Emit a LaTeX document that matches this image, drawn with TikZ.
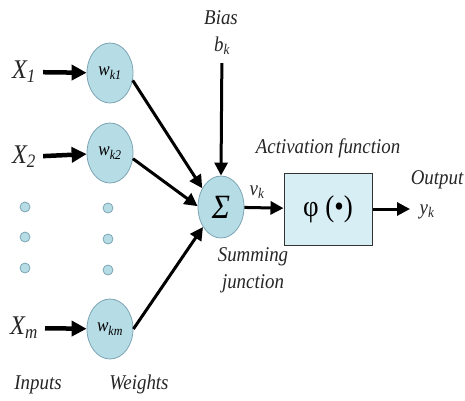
\documentclass[tikz,border=0pt]{standalone}
\usepackage{fontspec}
\setmainfont{Liberation Serif}[FakeStretch=0.9]
\usetikzlibrary{arrows.meta,shapes.geometric}
\definecolor{cellfill}{RGB}{182,220,230}
\definecolor{cellline}{RGB}{125,165,180}
\definecolor{boxfill}{RGB}{216,238,245}
\begin{document}
\begin{tikzpicture}[
  x=1pt, y=-1pt,
  >={Triangle[length=13pt,width=13pt]},
  lbl/.style={font=\fontsize{21}{27}\selectfont\itshape, text=black!85, inner sep=0pt},
  inp/.style={font=\fontsize{27}{30}\selectfont\itshape, text=black!85, inner sep=1pt},
  wgt/.style={ellipse, draw=cellline, fill=cellfill, line width=0.8pt,
              minimum width=46pt, minimum height=60pt, inner sep=0pt,
              font=\fontsize{19}{20}\selectfont\itshape},
  dot/.style={circle, draw=cellline, fill=cellfill, line width=0.8pt,
              minimum size=10pt, inner sep=0pt},
  arr/.style={->, line width=3pt},
  big/.style={->, line width=4.5pt, >={Triangle[length=15pt,width=15pt]}}
]
\useasboundingbox (0,0) rectangle (465,400);

%% Inputs and weights
\node[inp] (x1) at (24,72) {X\textsubscript{1}};
\node[inp] (x2) at (24,157) {X\textsubscript{2}};
\node[inp] (xm) at (24,328) {X\textsubscript{m}};
\node[wgt] (w1) at (110,73) {w\textsubscript{k1}};
\node[wgt] (w2) at (110,153) {w\textsubscript{k2}};
\node[wgt] (wm) at (110,329) {w\textsubscript{km}};
\draw[big, shorten <=6pt] (x1) -- (w1);
\draw[big, shorten <=6pt] (x2) -- (w2);
\draw[big, shorten <=6pt] (xm) -- (wm);

%% Dots
\foreach \y [count=\i] in {207,237,268}{
  \node[dot] (ld\i) at (25,\y) {};
}
\foreach \y [count=\i] in {208,239,270}{
  \node[dot] (rd\i) at (108,\y) {};
}
\node[lbl] (inputs) at (38,385) {Inputs};
\node[lbl] (weights) at (139,384) {Weights};

%% Summing junction
\node[wgt, minimum height=62pt, font=\fontsize{34}{34}\selectfont\itshape] (sum) at (221,207) {Σ};
\draw[arr] (w1.-18) -- (sum.135);
\draw[arr] (w2.-14) -- (sum.178);
\draw[arr] (wm.east) -- (sum.-132);
\node[lbl, align=center] (sumlbl) at (253,270) {Summing\\junction};

%% Bias
\node[lbl] (bias) at (221,18) {Bias};
\node[lbl] (bk) at (222,46) {b\textsubscript{k}};
\draw[arr, shorten <=8pt] (bk) -- (sum.north);

%% Activation function
\node[draw=black!80, fill=boxfill, line width=1pt, minimum width=88pt,
      minimum height=72pt, font=\fontsize{30}{30}\selectfont] (act) at (328,209) {φ (•)};
\node[lbl] (actlbl) at (328,148) {Activation function};
\draw[arr] (sum) -- (act);
\node[lbl] (vk) at (257,192) {v\textsubscript{k}};

%% Output
\coordinate (yout) at (410,209);
\draw[arr] (act) -- (yout);
\node[lbl] (outlbl) at (437,180) {Output};
\node[lbl] (yk) at (427,212) {y\textsubscript{k}};

\end{tikzpicture}
\end{document}
